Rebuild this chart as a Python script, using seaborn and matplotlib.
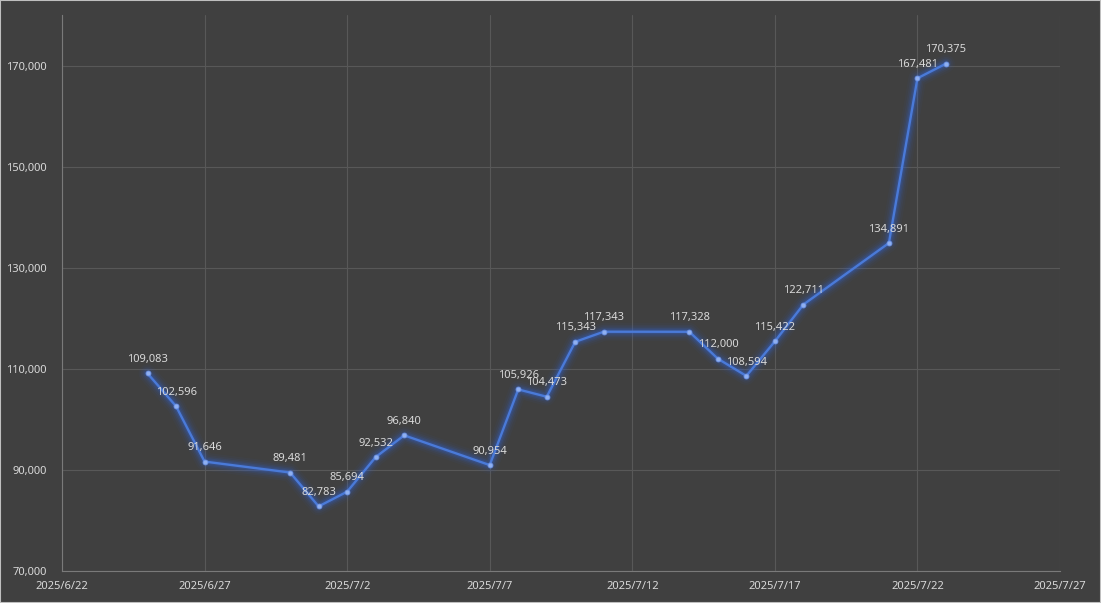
import matplotlib
matplotlib.use("Agg")
import matplotlib.pyplot as plt
import matplotlib.ticker as mticker
import seaborn as sns
import pandas as pd

dates = ["2025-06-25", "2025-06-26", "2025-06-27", "2025-06-30", "2025-07-01",
         "2025-07-02", "2025-07-03", "2025-07-04", "2025-07-07", "2025-07-08",
         "2025-07-09", "2025-07-10", "2025-07-11", "2025-07-14", "2025-07-15",
         "2025-07-16", "2025-07-17", "2025-07-18", "2025-07-21", "2025-07-22",
         "2025-07-23"]
values = [109083, 102596, 91646, 89481, 82783, 85694, 92532, 96840, 90954, 105926,
          104473, 115343, 117343, 117328, 112000, 108594, 115422, 122711, 134891,
          167481, 170375]
x_ticks = ["2025-06-22", "2025-06-27", "2025-07-02", "2025-07-07", "2025-07-12",
           "2025-07-17", "2025-07-22", "2025-07-27"]
y_ticks = [70000, 90000, 110000, 130000, 150000, 170000]

df = pd.DataFrame({"date": pd.to_datetime(dates), "value": values})

BG = "#404040"
GRID = "#585858"
TXT = "#d9d9d9"
LINE = "#4a7ad8"

sns.set_theme(style="dark")
plt.rcParams["font.family"] = ["Noto Sans", "DejaVu Sans"]

fig = plt.figure(figsize=(11.01, 6.03), dpi=100, facecolor=BG)
ax = fig.add_axes([62/1101, 32/603, (1060-62)/1101, (571-15)/603])
ax.set_facecolor(BG)

# glow
for lw, a in [(13, 0.04), (10, 0.06), (7.5, 0.09), (5.5, 0.13), (3.5, 0.18)]:
    sns.lineplot(data=df, x="date", y="value", ax=ax, color="#2f66e8",
                 linewidth=lw, alpha=a, legend=False, solid_capstyle="round")
sns.lineplot(data=df, x="date", y="value", ax=ax, color=LINE, linewidth=1.7,
             marker="o", markersize=3.5, markerfacecolor="#8fb0f0",
             markeredgecolor="#6f95e8", markeredgewidth=0.6, legend=False)

for d, v in zip(df["date"], df["value"]):
    ax.annotate(f"{v:,}", (d, v), xytext=(0, 6), textcoords="offset points",
                ha="center", va="bottom", fontsize=8, color=TXT)

xt = pd.to_datetime(x_ticks)
ax.set_xlim(xt[0], xt[-1])
ax.set_ylim(70000, 180000)
ax.set_xticks(xt)
ax.set_xticklabels([f"{t.year}/{t.month}/{t.day}" for t in xt])
ax.set_yticks(y_ticks)
ax.yaxis.set_major_formatter(mticker.FuncFormatter(lambda v, p: f"{int(v):,}"))
ax.tick_params(axis="x", length=0, labelsize=8, colors=TXT, pad=7)
ax.tick_params(axis="y", length=0, labelsize=8, colors=TXT, pad=11)
ax.grid(True, color=GRID, linewidth=0.8)
ax.set_xlabel("")
ax.set_ylabel("")
for s in ["top", "right"]:
    ax.spines[s].set_visible(False)
for s in ["left", "bottom"]:
    ax.spines[s].set_visible(True)
    ax.spines[s].set_color("#7a7a7a")
    ax.spines[s].set_linewidth(0.8)

fig.patches.append(plt.Rectangle((0, 0), 1, 1, transform=fig.transFigure,
                                 fill=False, edgecolor="#bfbfbf", linewidth=1.5))
fig.savefig("out.png", dpi=100, facecolor=BG)
